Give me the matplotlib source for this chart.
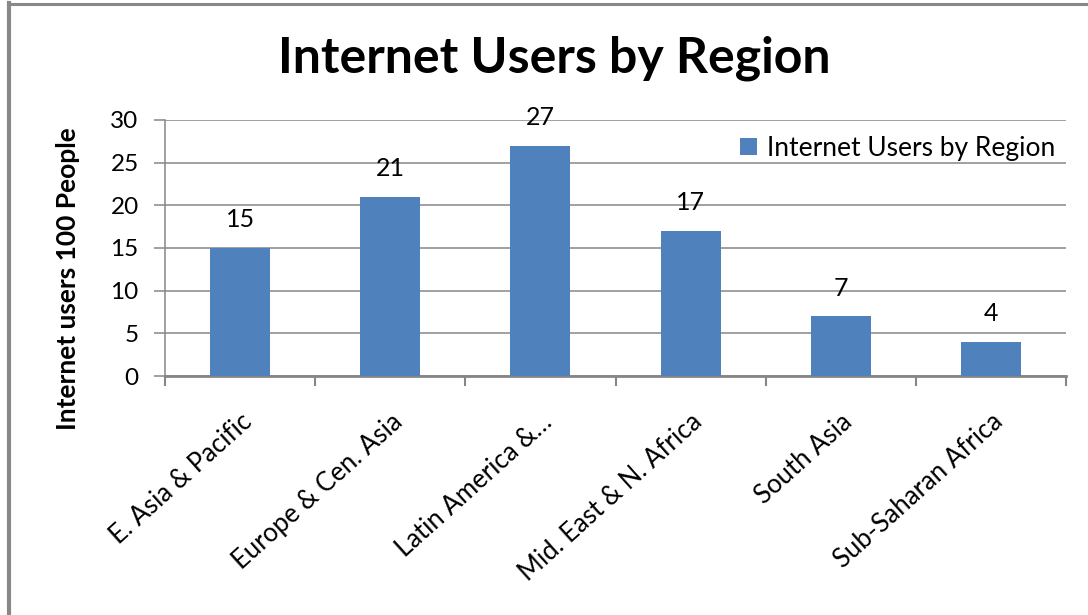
import matplotlib.pyplot as plt
from matplotlib.lines import Line2D

plt.rcParams['font.family'] = ['Lato', 'DejaVu Sans']

regions = ['E. Asia & Pacific', 'Europe & Cen. Asia', 'Latin America &\u2026',
           'Mid. East & N. Africa', 'South Asia', 'Sub-Saharan Africa']
users = [15, 21, 27, 17, 7, 4]

bar_color = '#4F81BD'
grid_color = '#868686'

fig = plt.figure(figsize=(10.88, 6.15), dpi=100)
ax = fig.add_axes([0.1517, 0.3886, 0.8281, 0.4163])

x = list(range(len(regions)))
bars = ax.bar(x, users, width=0.4, color=bar_color, label='Internet Users by Region', zorder=3)

# value labels above each bar
for xi, v in zip(x, users):
    ax.annotate(str(v), (xi, v), xytext=(0, 12), textcoords='offset points',
                ha='center', va='bottom', fontsize=18, color='black')

ax.set_xlim(-0.5, len(regions) - 0.5)
ax.set_ylim(0, 30)
ax.set_yticks(range(0, 31, 5))
ax.yaxis.grid(True, color=grid_color, linewidth=1.1, zorder=0)

# category boundaries carry the tick marks, labels sit at the centres
ax.set_xticks([i - 0.5 for i in range(len(regions) + 1)])
ax.set_xticklabels([])
ax.set_xticks(x, minor=True)
ax.set_xticklabels(regions, minor=True, rotation=42, ha='right', va='top',
                   rotation_mode='anchor', fontsize=18.5)
ax.tick_params(axis='x', which='minor', length=0, pad=24)
ax.tick_params(axis='x', which='major', length=7, width=1.5, color=grid_color, direction='out')
ax.tick_params(axis='y', length=8, width=1.1, color=grid_color, direction='out',
               labelsize=17.5, pad=11)

for side in ['top', 'right']:
    ax.spines[side].set_visible(False)
ax.spines['left'].set_color(grid_color)
ax.spines['left'].set_linewidth(1.1)
ax.spines['bottom'].set_color(grid_color)
ax.spines['bottom'].set_linewidth(2)

ax.set_ylabel('Internet users 100 People', fontsize=19, fontweight='bold')
ax.yaxis.set_label_coords(-0.094, 0.38)

ax.legend(loc='upper right', bbox_to_anchor=(1.0, 0.98), frameon=False, fontsize=19,
          handlelength=0.65, handleheight=0.65, handletextpad=0.4, borderaxespad=0)

fig.text(0.509, 0.906, 'Internet Users by Region', ha='center', va='center',
         fontsize=36, fontweight='bold')

# chart frame: top and left edges
fig.add_artist(Line2D([8 / 1088, 1], [1 - 4 / 615, 1 - 4 / 615], color='#888888', linewidth=2.2))
fig.add_artist(Line2D([9 / 1088, 9 / 1088], [0, 1 - 3 / 615], color='#888888', linewidth=3))

fig.savefig('out.png', dpi=100)
